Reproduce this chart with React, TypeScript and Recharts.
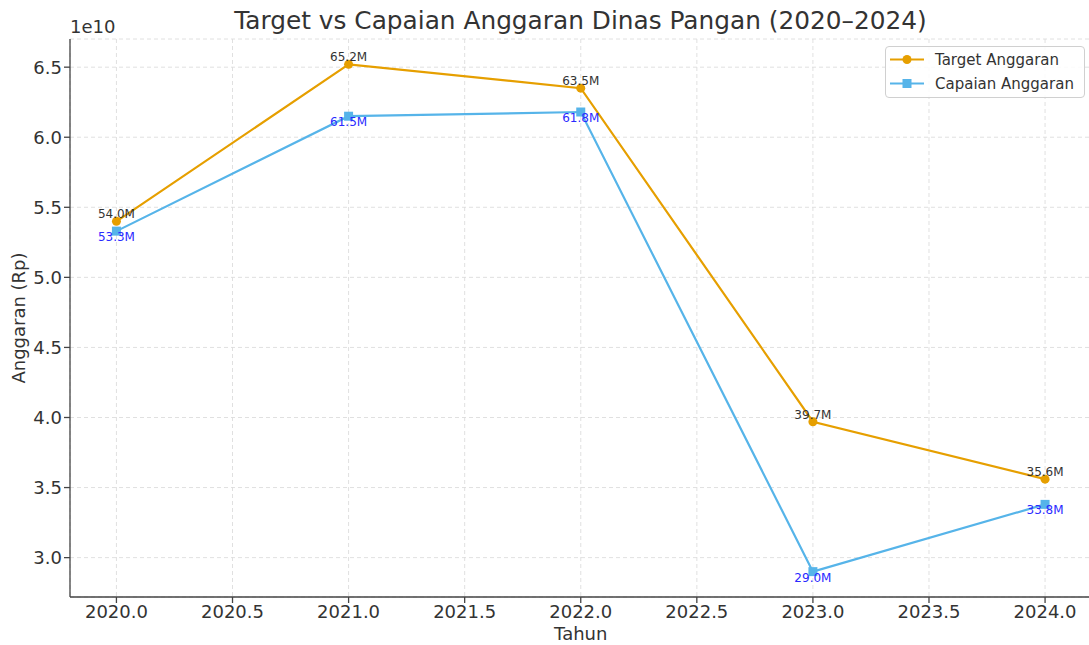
import React from 'react';
import { LineChart, Line, XAxis, YAxis, CartesianGrid, LabelList, Legend } from 'recharts';

const years = [2020, 2021, 2022, 2023, 2024];
const targetValues = [54.0e9, 65.2e9, 63.5e9, 39.7e9, 35.6e9];
const capaianValues = [53.3e9, 61.5e9, 61.8e9, 29.0e9, 33.8e9];
const xTicks = [2020, 2020.5, 2021, 2021.5, 2022, 2022.5, 2023, 2023.5, 2024];
const yTicks = [3.0e10, 3.5e10, 4.0e10, 4.5e10, 5.0e10, 5.5e10, 6.0e10, 6.5e10];

const data = years.map((y, i) => ({ year: y, target: targetValues[i], capaian: capaianValues[i] }));

const ORANGE = '#E69F00';
const BLUE = '#56B4E9';
const FONT = 'DejaVu Sans, sans-serif';

const CircleDot = (props: any) => {
  const { cx, cy } = props;
  if (cx == null || cy == null) return null;
  return <circle cx={cx} cy={cy} r={4.5} fill={ORANGE} stroke="none" />;
};
const SquareDot = (props: any) => {
  const { cx, cy } = props;
  if (cx == null || cy == null) return null;
  return <rect x={cx - 4.5} y={cy - 4.5} width={9} height={9} fill={BLUE} stroke="none" />;
};

const fmt = (v: number) => (v / 1e9).toFixed(1) + 'M';

const TargetLabel = (props: any) => {
  const { x, y, value } = props;
  return (
    <text x={x} y={y - 3} textAnchor="middle" fontSize={12} fill="#333" fontFamily={FONT}>
      {fmt(value)}
    </text>
  );
};
const CapaianLabel = (props: any) => {
  const { x, y, value } = props;
  return (
    <text x={x} y={y + 10} textAnchor="middle" fontSize={12} fill="#2a2aff" fontFamily={FONT}>
      {fmt(value)}
    </text>
  );
};

const LegendBox = () => (
  <div
    style={{
      width: 200,
      height: 52,
      boxSizing: 'border-box',
      border: '1px solid #d0d0d0',
      borderRadius: 4,
      background: 'rgba(255,255,255,0.85)',
      fontFamily: FONT,
      fontSize: 15,
      color: '#333',
      position: 'relative',
    }}
  >
    <svg width={200} height={52} style={{ position: 'absolute', left: 0, top: 0 }}>
      <line x1={4} x2={38} y1={12.5} y2={12.5} stroke={ORANGE} strokeWidth={2.2} />
      <circle cx={21} cy={12.5} r={4.5} fill={ORANGE} />
      <line x1={4} x2={38} y1={36.5} y2={36.5} stroke={BLUE} strokeWidth={2.2} />
      <rect x={16.5} y={32} width={9} height={9} fill={BLUE} />
      <text x={49} y={18} fontSize={15} fill="#333" fontFamily={FONT}>Target Anggaran</text>
      <text x={49} y={42} fontSize={15} fill="#333" fontFamily={FONT}>Capaian Anggaran</text>
    </svg>
  </div>
);

export default function App() {
  return (
    <div style={{ position: 'absolute', left: 0, top: 0, width: 1089, height: 645, background: '#fff', fontFamily: FONT }}>
      <div
        style={{
          position: 'absolute',
          left: 70,
          width: 1021,
          top: 6,
          textAlign: 'center',
          fontSize: 24.8,
          color: '#333',
          lineHeight: '29px',
          whiteSpace: 'nowrap',
        }}
      >
        Target vs Capaian Anggaran Dinas Pangan (2020–2024)
      </div>
      <div style={{ position: 'absolute', left: 70, top: 16, fontSize: 18, color: '#333', lineHeight: '21px' }}>1e10</div>
      <LineChart width={1089} height={645} data={data} margin={{ top: 39, right: -2.5, left: 0, bottom: 0 }}>
        <CartesianGrid stroke="#dcdcdc" strokeDasharray="4 3" strokeWidth={0.9} />
        <XAxis
          dataKey="year"
          type="number"
          domain={[2019.8, 2024.2]}
          allowDataOverflow
          ticks={xTicks}
          tickFormatter={(v: number) => v.toFixed(1)}
          height={48}
          tickSize={6}
          tickMargin={2}
          stroke="#444"
          strokeWidth={1.3}
          tick={{ fontSize: 18, fill: '#333', fontFamily: FONT }}
          label={{ value: 'Tahun', position: 'insideBottom', offset: 5, fontSize: 18, fill: '#333', fontFamily: FONT }}
        />
        <YAxis
          type="number"
          domain={[2.719e10, 6.701e10]}
          allowDataOverflow
          ticks={yTicks}
          tickFormatter={(v: number) => (v / 1e10).toFixed(1)}
          width={70}
          tickSize={6}
          tickMargin={2}
          stroke="#444"
          strokeWidth={1.3}
          tick={{ fontSize: 18, fill: '#333', fontFamily: FONT }}
          label={{
            content: (p: any) => {
              const vb = p.viewBox || {};
              const cy = (vb.y || 0) + (vb.height || 0) / 2;
              const cx = 18;
              return (
                <text
                  x={cx}
                  y={cy}
                  transform={`rotate(-90 ${cx} ${cy})`}
                  textAnchor="middle"
                  dominantBaseline="central"
                  fontSize={18}
                  fill="#333"
                  fontFamily={FONT}
                >
                  Anggaran (Rp)
                </text>
              );
            },
          }}
        />
        <Legend
          layout="horizontal"
          verticalAlign="middle"
          align="center"
          content={() => <LegendBox />}
          wrapperStyle={{ position: 'absolute', left: 885, top: 46, width: 200, height: 52 }}
        />
        <Line
          type="linear"
          dataKey="target"
          name="Target Anggaran"
          stroke={ORANGE}
          strokeWidth={2.2}
          dot={<CircleDot />}
          activeDot={false}
          isAnimationActive={false}
        >
          <LabelList dataKey="target" content={<TargetLabel />} />
        </Line>
        <Line
          type="linear"
          dataKey="capaian"
          name="Capaian Anggaran"
          stroke={BLUE}
          strokeWidth={2.2}
          dot={<SquareDot />}
          activeDot={false}
          isAnimationActive={false}
        >
          <LabelList dataKey="capaian" content={<CapaianLabel />} />
        </Line>
      </LineChart>
    </div>
  );
}
